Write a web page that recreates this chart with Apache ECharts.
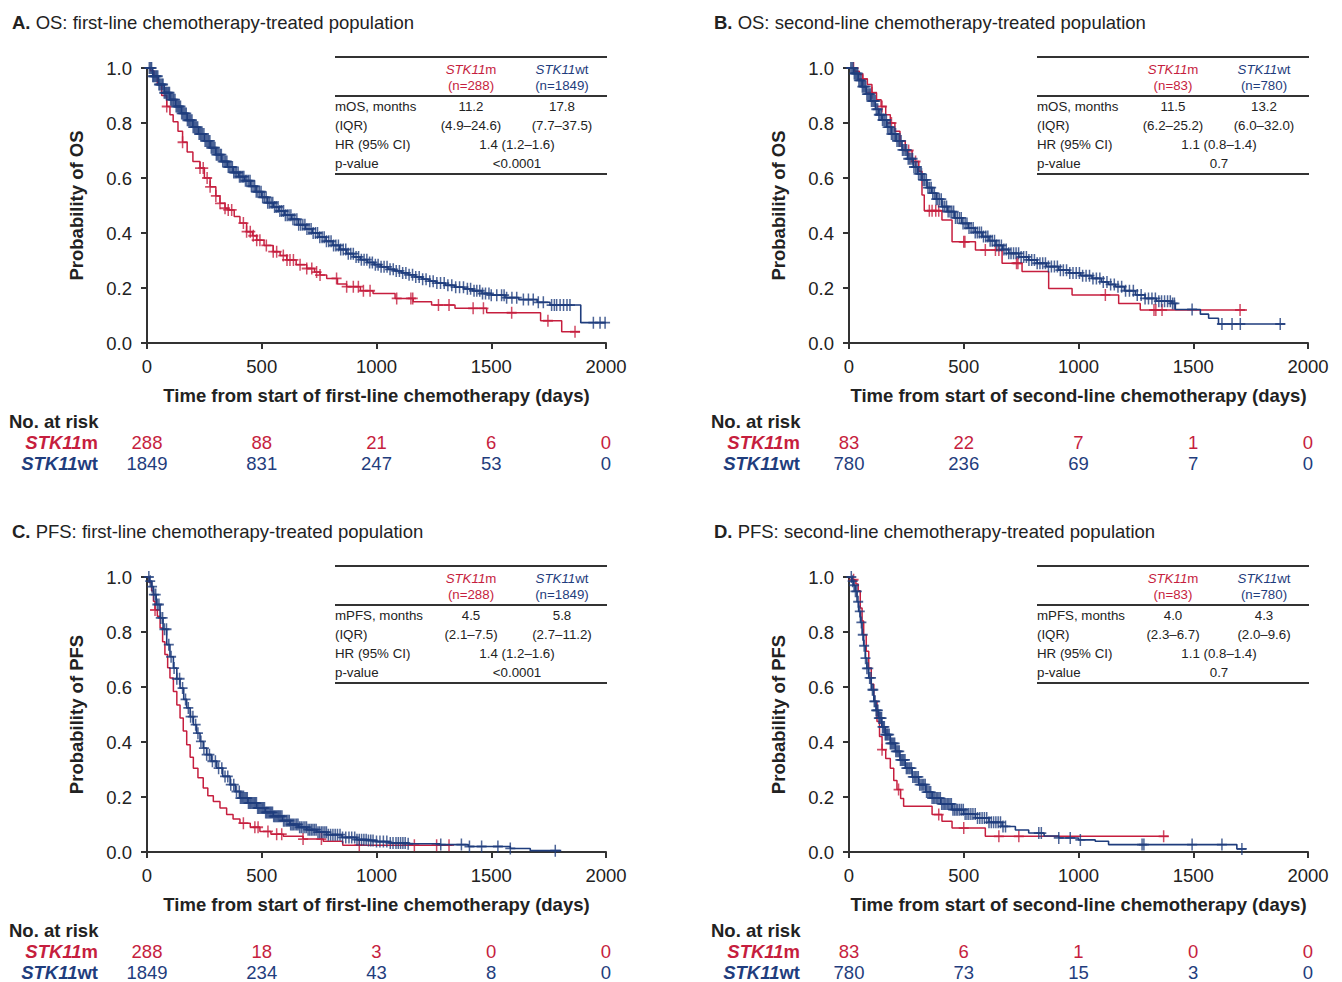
<!DOCTYPE html>
<html>
<head>
<meta charset="utf-8">
<script src="https://cdn.jsdelivr.net/npm/echarts@6/dist/echarts.min.js"></script>
<style>
html, body { margin: 0; background: #fff; }
#main { width: 1342px; height: 982px; }
</style>
</head>
<body>
<div id="main"></div>
<script>
// ---- data ----
const xTicks = [0, 500, 1000, 1500, 2000];

// KM steps [day, survival] – A: OS first line
const osFirstM = [[0,1],[15,0.99],[30,0.97],[45,0.94],[64,0.9],[86,0.86],[100,0.83],[114,0.805],[135,0.77],[155,0.73],[175,0.695],[200,0.66],[231,0.636],[250,0.6],[275,0.568],[300,0.535],[318,0.508],[340,0.49],[354,0.484],[380,0.46],[405,0.436],[434,0.405],[460,0.39],[478,0.374],[510,0.355],[550,0.332],[580,0.318],[609,0.302],[650,0.285],[696,0.271],[730,0.258],[754,0.247],[783,0.235],[830,0.215],[870,0.205],[930,0.19],[985,0.18],[1081,0.162],[1160,0.15],[1240,0.138],[1342,0.126],[1480,0.11],[1715,0.081],[1807,0.041],[1887,0.041]];
const osFirstWt = [[0,1],[25,0.97],[50,0.94],[75,0.91],[100,0.885],[125,0.86],[150,0.835],[175,0.81],[200,0.785],[225,0.76],[250,0.735],[275,0.71],[300,0.685],[325,0.66],[350,0.64],[375,0.62],[400,0.605],[425,0.59],[450,0.57],[475,0.55],[500,0.53],[525,0.51],[550,0.495],[575,0.48],[600,0.465],[630,0.45],[660,0.43],[690,0.415],[720,0.4],[750,0.385],[780,0.37],[810,0.355],[840,0.34],[870,0.325],[900,0.313],[930,0.303],[960,0.293],[990,0.285],[1020,0.277],[1050,0.268],[1080,0.262],[1110,0.255],[1140,0.248],[1170,0.24],[1200,0.232],[1230,0.225],[1260,0.218],[1300,0.21],[1340,0.203],[1380,0.197],[1420,0.19],[1460,0.18],[1500,0.174],[1560,0.165],[1620,0.158],[1700,0.148],[1756,0.138],[1890,0.074],[2000,0.074]];
const osFirstMCens = [86,155,231,245,262,275,300,318,340,354,369,420,434,450,463,478,492,520,550,565,594,610,623,638,667,696,718,739,754,826,870,899,921,943,972,1088,1150,1158,1270,1316,1421,1466,1589,1747,1865];
const osFirstWtCens = [10,16,20,25,29,33,38,42,47,52,56,61,66,70,75,80,84,89,94,98,103,108,113,117,122,127,132,137,141,146,151,156,161,166,171,176,181,186,191,196,201,206,211,216,221,227,232,237,242,248,253,258,264,269,274,280,285,291,296,302,307,313,319,324,330,336,342,348,354,360,366,372,378,384,390,397,403,409,416,422,429,435,442,449,455,462,469,476,483,490,497,504,511,519,526,533,541,548,556,563,571,579,587,595,603,611,619,627,636,644,653,661,670,679,688,697,706,715,724,734,743,753,763,772,782,792,802,813,823,834,844,855,866,877,888,899,911,922,934,946,958,970,982,995,1007,1020,1033,1046,1059,1073,1086,1100,1114,1128,1142,1157,1171,1186,1201,1216,1232,1247,1263,1279,1295,1311,1328,1345,1362,1379,1396,1410,1425,1437,1450,1462,1475,1490,1500,1524,1545,1556,1567,1590,1611,1640,1662,1683,1705,1727,1763,1775,1785,1800,1815,1830,1843,1945,1974,1996];

// B: OS second line
const osSecondM = [[0,1],[25,0.988],[45,0.976],[60,0.96],[80,0.94],[100,0.91],[120,0.885],[140,0.86],[160,0.83],[180,0.8],[200,0.77],[222,0.735],[245,0.7],[275,0.66],[304,0.625],[318,0.538],[328,0.481],[405,0.447],[449,0.368],[551,0.338],[667,0.29],[754,0.26],[870,0.198],[972,0.175],[1175,0.144],[1269,0.12],[1734,0.12]];
const osSecondWt = [[0,1],[20,0.98],[40,0.955],[57,0.932],[75,0.905],[95,0.88],[115,0.85],[130,0.83],[144,0.811],[165,0.785],[185,0.76],[205,0.735],[231,0.702],[255,0.67],[280,0.64],[300,0.615],[318,0.593],[340,0.565],[360,0.545],[380,0.523],[405,0.496],[430,0.478],[460,0.455],[492,0.435],[520,0.418],[550,0.402],[580,0.387],[610,0.372],[640,0.355],[670,0.34],[696,0.326],[740,0.313],[783,0.302],[820,0.29],[860,0.278],[914,0.265],[960,0.255],[1010,0.245],[1059,0.235],[1100,0.222],[1130,0.213],[1161,0.205],[1200,0.19],[1248,0.175],[1290,0.162],[1340,0.152],[1407,0.144],[1422,0.122],[1531,0.105],[1567,0.09],[1610,0.069],[1901,0.069]];
const osSecondMCens = [20,60,100,144,185,222,260,290,350,362,378,391,500,505,594,638,653,730,736,1117,1329,1337,1364,1704];
const osSecondWtCens = [8,13,18,23,28,33,38,43,48,53,58,63,68,73,78,83,88,93,98,104,109,114,119,125,130,135,141,146,152,157,163,168,174,180,185,191,197,203,209,215,221,227,233,239,245,251,258,264,270,277,283,290,296,303,310,316,323,330,337,344,351,358,365,372,380,387,394,402,409,417,425,432,440,448,456,464,472,481,489,497,506,514,523,532,541,550,559,568,577,586,596,605,615,624,634,644,654,664,675,685,696,706,717,728,739,750,761,773,784,796,808,820,832,844,856,869,882,895,908,921,934,948,962,976,990,1004,1018,1033,1048,1063,1078,1093,1108,1124,1140,1156,1172,1188,1205,1222,1239,1256,1273,1290,1305,1320,1335,1350,1362,1375,1388,1400,1410,1418,1495,1625,1669,1705,1879];

// C: PFS first line
const pfsFirstM = [[0,1],[10,0.98],[20,0.95],[28,0.912],[35,0.88],[45,0.857],[57,0.815],[68,0.765],[78,0.718],[90,0.67],[100,0.633],[115,0.584],[130,0.535],[144,0.487],[158,0.44],[173,0.39],[188,0.345],[202,0.305],[222,0.27],[245,0.233],[265,0.205],[289,0.184],[318,0.16],[347,0.136],[375,0.12],[405,0.105],[450,0.09],[492,0.075],[540,0.065],[594,0.057],[680,0.047],[768,0.039],[853,0.025],[1330,0.025]];
const pfsFirstWt = [[0,1],[10,0.985],[20,0.965],[28,0.936],[40,0.9],[57,0.851],[70,0.81],[86,0.754],[100,0.71],[115,0.669],[130,0.63],[144,0.596],[160,0.555],[173,0.524],[188,0.492],[202,0.463],[216,0.432],[231,0.402],[245,0.378],[260,0.354],[280,0.33],[304,0.305],[330,0.275],[362,0.245],[385,0.22],[405,0.196],[440,0.178],[478,0.16],[515,0.144],[550,0.13],[590,0.114],[623,0.1],[660,0.09],[696,0.081],[740,0.072],[783,0.063],[850,0.053],[914,0.045],[960,0.042],[1000,0.038],[1059,0.033],[1138,0.03],[1277,0.027],[1400,0.02],[1583,0.013],[1670,0.005],[1805,0.005]];
const pfsFirstMCens = [35,420,470,484,527,565,587,680,760,925,1165,1262,1316];
const pfsFirstWtCens = [8,14,22,30,38,45,52,60,68,76,85,95,105,118,130,142,155,168,180,190,200,212,222,235,248,260,272,285,298,312,326,340,352,365,378,390,402,407,412,417,422,427,432,437,442,447,452,457,462,467,472,477,482,487,492,497,502,507,512,517,522,527,532,537,542,547,552,557,562,567,572,577,582,588,595,601,608,614,620,626,632,638,645,652,658,665,672,680,688,695,702,709,716,723,730,737,745,752,760,767,775,782,790,800,810,820,830,841,852,866,880,892,905,915,925,935,945,955,965,975,985,1000,1015,1030,1045,1060,1072,1085,1095,1105,1115,1125,1138,1280,1370,1405,1458,1529,1583,1779];

// D: PFS second line
const pfsSecondM = [[0,1],[15,0.99],[30,0.975],[40,0.95],[49,0.887],[57,0.84],[64,0.79],[75,0.73],[86,0.669],[97,0.61],[108,0.548],[122,0.475],[133,0.42],[144,0.372],[160,0.34],[180,0.305],[195,0.26],[209,0.227],[225,0.195],[238,0.166],[362,0.136],[405,0.112],[449,0.087],[594,0.057],[1393,0.057]];
const pfsSecondWt = [[0,1],[12,0.985],[20,0.97],[27,0.948],[35,0.91],[42,0.875],[50,0.835],[57,0.79],[64,0.75],[71,0.705],[78,0.668],[86,0.633],[97,0.59],[108,0.548],[118,0.515],[129,0.487],[143,0.455],[158,0.427],[180,0.395],[202,0.366],[222,0.335],[245,0.305],[275,0.273],[304,0.245],[335,0.218],[362,0.196],[400,0.175],[449,0.154],[500,0.138],[551,0.124],[610,0.108],[667,0.093],[725,0.08],[783,0.069],[850,0.058],[914,0.051],[1000,0.044],[1073,0.039],[1131,0.027],[1690,0.011],[1730,0.011]];
const pfsSecondMCens = [20,144,216,391,500,653,740,1371];
const pfsSecondWtCens = [10,16,22,28,34,40,47,54,60,66,72,78,84,90,96,102,106,110,114,118,122,126,130,134,138,142,146,150,154,158,162,166,170,175,180,184,189,194,199,204,209,214,219,224,229,234,239,244,250,255,261,266,272,278,284,290,296,302,308,314,320,326,332,338,344,350,356,362,368,374,380,386,392,398,404,410,416,422,428,434,440,446,453,460,467,474,482,490,498,506,514,522,531,540,550,560,570,580,590,600,610,620,630,640,650,660,671,682,827,838,914,964,1008,1277,1285,1495,1625,1712];

// numbers at risk at xTicks
const riskOsFirstM = [288, 88, 21, 6, 0];
const riskOsFirstWt = [1849, 831, 247, 53, 0];
const riskOsSecondM = [83, 22, 7, 1, 0];
const riskOsSecondWt = [780, 236, 69, 7, 0];
const riskPfsFirstM = [288, 18, 3, 0, 0];
const riskPfsFirstWt = [1849, 234, 43, 8, 0];
const riskPfsSecondM = [83, 6, 1, 0, 0];
const riskPfsSecondWt = [780, 73, 15, 3, 0];

// inset table values
const nFirst = ['(n=288)', '(n=1849)'];
const nSecond = ['(n=83)', '(n=780)'];
const medOsFirst = ['11.2', '17.8'], iqrOsFirst = ['(4.9\u201324.6)', '(7.7\u201337.5)'];
const medOsSecond = ['11.5', '13.2'], iqrOsSecond = ['(6.2\u201325.2)', '(6.0\u201332.0)'];
const medPfsFirst = ['4.5', '5.8'], iqrPfsFirst = ['(2.1\u20137.5)', '(2.7\u201311.2)'];
const medPfsSecond = ['4.0', '4.3'], iqrPfsSecond = ['(2.3\u20136.7)', '(2.0\u20139.6)'];
const hrFirst = '1.4 (1.2\u20131.6)', pFirst = '<0.0001';
const hrSecond = '1.1 (0.8\u20131.4)', pSecond = '0.7';

const RED = '#c61e3e';
const BLUE = '#1f3d7d';
const INK = '#222';
const FF = '"Liberation Sans", Arial, Helvetica, sans-serif';
const FS = 18.5;
const PLUS = 'path://M8.5,0H11.5V8.5H20V11.5H11.5V20H8.5V11.5H0V8.5H8.5Z';

const panels = [
  { tag: 'A.', title: ' OS: first-line chemotherapy-treated population', yName: 'Probability of OS',
    xName: 'Time from start of first-line chemotherapy (days)', m: osFirstM, wt: osFirstWt,
    mC: osFirstMCens, wtC: osFirstWtCens, rM: riskOsFirstM, rWt: riskOsFirstWt,
    n: nFirst, medLabel: 'mOS, months', med: medOsFirst, iqr: iqrOsFirst, hr: hrFirst, p: pFirst, left: 147, top: 68 },
  { tag: 'B.', title: ' OS: second-line chemotherapy-treated population', yName: 'Probability of OS',
    xName: 'Time from start of second-line chemotherapy (days)', m: osSecondM, wt: osSecondWt,
    mC: osSecondMCens, wtC: osSecondWtCens, rM: riskOsSecondM, rWt: riskOsSecondWt,
    n: nSecond, medLabel: 'mOS, months', med: medOsSecond, iqr: iqrOsSecond, hr: hrSecond, p: pSecond, left: 849, top: 68 },
  { tag: 'C.', title: ' PFS: first-line chemotherapy-treated population', yName: 'Probability of PFS',
    xName: 'Time from start of first-line chemotherapy (days)', m: pfsFirstM, wt: pfsFirstWt,
    mC: pfsFirstMCens, wtC: pfsFirstWtCens, rM: riskPfsFirstM, rWt: riskPfsFirstWt,
    n: nFirst, medLabel: 'mPFS, months', med: medPfsFirst, iqr: iqrPfsFirst, hr: hrFirst, p: pFirst, left: 147, top: 577 },
  { tag: 'D.', title: ' PFS: second-line chemotherapy-treated population', yName: 'Probability of PFS',
    xName: 'Time from start of second-line chemotherapy (days)', m: pfsSecondM, wt: pfsSecondWt,
    mC: pfsSecondMCens, wtC: pfsSecondWtCens, rM: riskPfsSecondM, rWt: riskPfsSecondWt,
    n: nSecond, medLabel: 'mPFS, months', med: medPfsSecond, iqr: iqrPfsSecond, hr: hrSecond, p: pSecond, left: 849, top: 577 }
];

// survival value of a KM step curve at day t (last step at or before t)
function survAt(steps, t) {
  let s = steps[0][1];
  for (const p of steps) {
    if (p[0] <= t) s = p[1]; else break;
  }
  return s;
}

const chart = echarts.init(document.getElementById('main'), null, { renderer: 'svg' });

const grids = [], xAxes = [], yAxes = [], series = [];
panels.forEach((pn, i) => {
  grids.push({ left: pn.left, top: pn.top, width: 459, height: 275, outerBoundsMode: 'none', containLabel: false });
  xAxes.push({
    gridIndex: i, type: 'value', min: 0, max: 2000, interval: 500,
    name: pn.xName, nameLocation: 'middle', nameGap: 43,
    nameTextStyle: { fontSize: FS, fontWeight: 'bold', color: INK, fontFamily: FF },
    axisLine: { show: true, onZero: false, lineStyle: { color: '#333', width: 2 } },
    axisTick: { show: true, inside: false, length: 6, lineStyle: { color: '#333', width: 2 } },
    axisLabel: { fontSize: FS, color: INK, fontFamily: FF, margin: 14, showMinLabel: true, showMaxLabel: true,
      formatter: v => String(v) },
    splitLine: { show: false }
  });
  yAxes.push({
    gridIndex: i, type: 'value', min: 0, max: 1, interval: 0.2,
    name: pn.yName, nameLocation: 'middle', nameGap: 61,
    nameTextStyle: { fontSize: FS, fontWeight: 'bold', color: INK, fontFamily: FF },
    axisLine: { show: true, lineStyle: { color: '#333', width: 2 } },
    axisTick: { show: true, inside: false, length: 6, lineStyle: { color: '#333', width: 2 } },
    axisLabel: { fontSize: FS, color: INK, fontFamily: FF, margin: 15, formatter: v => v.toFixed(1) },
    splitLine: { show: false }
  });
  series.push(
    { type: 'line', xAxisIndex: i, yAxisIndex: i, data: pn.m, step: 'end', showSymbol: false,
      lineStyle: { color: RED, width: 1.5 }, itemStyle: { color: RED }, z: 2 },
    { type: 'scatter', xAxisIndex: i, yAxisIndex: i, data: pn.mC.map(t => [t, survAt(pn.m, t)]),
      symbol: PLUS, symbolSize: [10, 12], itemStyle: { color: RED }, z: 3 },
    { type: 'line', xAxisIndex: i, yAxisIndex: i, data: pn.wt, step: 'end', showSymbol: false,
      lineStyle: { color: BLUE, width: 1.6 }, itemStyle: { color: BLUE }, z: 4 },
    { type: 'scatter', xAxisIndex: i, yAxisIndex: i, data: pn.wtC.map(t => [t, survAt(pn.wt, t)]),
      symbol: PLUS, symbolSize: [10, 12], itemStyle: { color: BLUE }, z: 5 }
  );
});

chart.setOption({
  animation: false,
  backgroundColor: '#fff',
  grid: grids, xAxis: xAxes, yAxis: yAxes, series: series
});

// ---- text: titles, inset tables, numbers at risk ----
function txt(x, y, text, font, fill, align, rich) {
  const st = { x: x, y: y, text: text, font: font, fill: fill,
    align: align, verticalAlign: 'middle', textAlign: align, textVerticalAlign: 'middle' };
  if (rich) st.rich = rich;
  return { type: 'text', silent: true, z: 10, style: st };
}
function hline(x1, x2, y) {
  return { type: 'line', silent: true, z: 10, shape: { x1: x1, y1: y, x2: x2, y2: y },
    style: { stroke: '#333', lineWidth: 2 } };
}
const TS = 13.3;
const fT = TS + 'px ' + FF;
const fN = FS + 'px ' + FF;
const fB = 'bold ' + FS + 'px ' + FF;

const graphics = [];
panels.forEach((pn, i) => {
  const L = chart.convertToPixel({ xAxisIndex: i }, 0);
  const R = chart.convertToPixel({ xAxisIndex: i }, 2000);
  const T = chart.convertToPixel({ yAxisIndex: i }, 1);
  const B = chart.convertToPixel({ yAxisIndex: i }, 0);

  // panel title
  graphics.push(txt(L - 135, T - 46, '{b|' + pn.tag + '}{n|' + pn.title + '}', fN, INK, 'left', {
    b: { fontWeight: 'bold', fontSize: FS, fontFamily: FF, fill: INK },
    n: { fontSize: FS, fontFamily: FF, fill: INK }
  }));

  // inset table
  const tl = L + 188, tr = R + 1;
  const c1 = L + 324, c2 = L + 415, cm = L + 370;
  graphics.push(hline(tl, tr, T - 11), hline(tl, tr, T + 28), hline(tl, tr, T + 106));
  const hdrRich = (col) => ({
    i: { fontStyle: 'italic', fontSize: TS, fontFamily: FF, fill: col },
    n: { fontSize: TS, fontFamily: FF, fill: col }
  });
  graphics.push(txt(c1, T + 1, '{i|STK11}{n|m}', fT, RED, 'center', hdrRich(RED)));
  graphics.push(txt(c2, T + 1, '{i|STK11}{n|wt}', fT, BLUE, 'center', hdrRich(BLUE)));
  graphics.push(txt(c1, T + 17, pn.n[0], fT, RED, 'center'));
  graphics.push(txt(c2, T + 17, pn.n[1], fT, BLUE, 'center'));
  const rows = [T + 38, T + 57, T + 76, T + 95];
  graphics.push(txt(tl, rows[0], pn.medLabel, fT, INK, 'left'));
  graphics.push(txt(c1, rows[0], pn.med[0], fT, INK, 'center'));
  graphics.push(txt(c2, rows[0], pn.med[1], fT, INK, 'center'));
  graphics.push(txt(tl, rows[1], '(IQR)', fT, INK, 'left'));
  graphics.push(txt(c1, rows[1], pn.iqr[0], fT, INK, 'center'));
  graphics.push(txt(c2, rows[1], pn.iqr[1], fT, INK, 'center'));
  graphics.push(txt(tl, rows[2], 'HR (95% CI)', fT, INK, 'left'));
  graphics.push(txt(cm, rows[2], pn.hr, fT, INK, 'center'));
  graphics.push(txt(tl, rows[3], 'p-value', fT, INK, 'left'));
  graphics.push(txt(cm, rows[3], pn.p, fT, INK, 'center'));

  // numbers at risk
  graphics.push(txt(L - 138, B + 78, 'No. at risk', fB, INK, 'left'));
  const lblRich = (col) => ({
    i: { fontStyle: 'italic', fontWeight: 'bold', fontSize: FS, fontFamily: FF, fill: col },
    n: { fontWeight: 'bold', fontSize: FS, fontFamily: FF, fill: col }
  });
  graphics.push(txt(L - 49, B + 99, '{i|STK11}{n|m}', fB, RED, 'right', lblRich(RED)));
  graphics.push(txt(L - 49, B + 120, '{i|STK11}{n|wt}', fB, BLUE, 'right', lblRich(BLUE)));
  xTicks.forEach((d, k) => {
    const x = chart.convertToPixel({ xAxisIndex: i }, d);
    graphics.push(txt(x, B + 99, String(pn.rM[k]), fN, RED, 'center'));
    graphics.push(txt(x, B + 120, String(pn.rWt[k]), fN, BLUE, 'center'));
  });
});

chart.setOption({ graphic: graphics });
</script>
</body>
</html>
